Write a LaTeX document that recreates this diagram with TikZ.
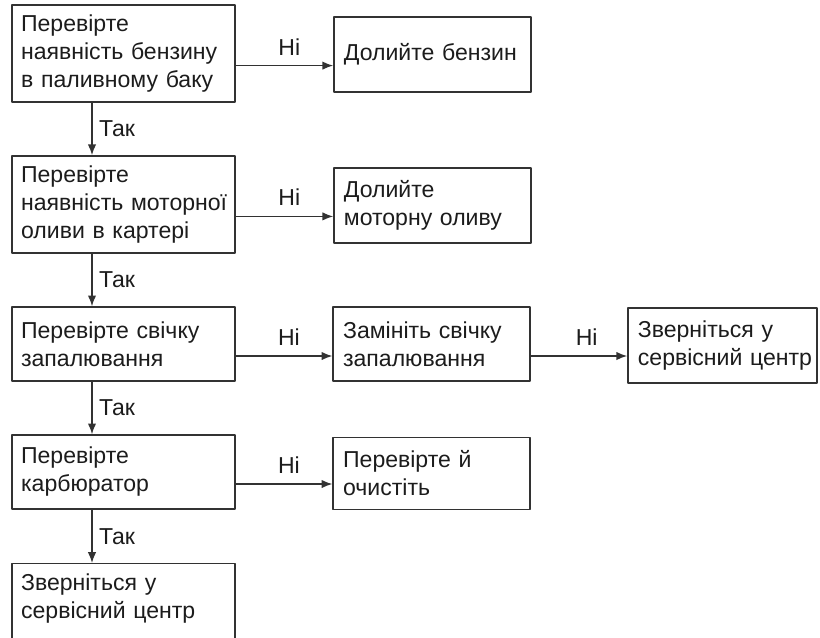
\documentclass[tikz,border=0pt]{standalone}
\usepackage{fontspec}
\setmainfont{Liberation Sans}
\usetikzlibrary{arrows.meta}
\definecolor{linegray}{RGB}{50,50,50}
\definecolor{textgray}{RGB}{28,28,28}
\tikzset{
  box/.style={draw=linegray,line width=1pt,align=left,text=textgray,
    font=\fontsize{16.4}{19.9}\selectfont,inner ysep=0pt},
  leftbox/.style={box,text width=5.125cm,inner xsep=0.225cm},
  rightbox/.style={box,text width=4.425cm,inner xsep=0.25cm},
  farbox/.style={box,text width=4.225cm,inner xsep=0.25cm},
  flow/.style={draw=linegray,line width=1pt,-{Latex[length=2.7mm,width=2.1mm]}},
  tag/.style={text=textgray,font=\fontsize{16.4}{18}\selectfont,inner sep=2pt}
}
\begin{document}
\begin{tikzpicture}[line cap=round,line join=round]
  \useasboundingbox (0,0) rectangle (20.5,-15.925);
  % checks, left column
  \node[leftbox,minimum height=2.425cm] (b1) at (3.09,-1.34) {Перевірте\\наявність~бензину\\в~паливному~баку};
  \node[leftbox,minimum height=2.425cm] (b2) at (3.09,-5.11) {Перевірте\\наявність~моторної\\оливи~в~картері};
  \node[leftbox,minimum height=1.85cm] (b3) at (3.09,-8.6) {Перевірте~свічку\\запалювання};
  \node[leftbox,minimum height=1.85cm] (b4) at (3.09,-11.8) {Перевірте\\карбюратор};
  \node[leftbox,anchor=north,inner ysep=0.25cm,text depth=2cm] (b5) at (3.09,-14.075) {Зверніться~у\\сервісний~центр};
  % actions
  \node[rightbox,minimum height=1.875cm] (r1) at (10.81,-1.36) {Долийте~бензин};
  \node[rightbox,minimum height=1.875cm] (r2) at (10.81,-5.14) {Долийте\\моторну~оливу};
  \node[rightbox,minimum height=1.85cm] (r3) at (10.79,-8.6) {Замініть~свічку\\запалювання};
  \node[rightbox,minimum height=1.8cm] (r4) at (10.79,-11.83) {Перевірте~й\\очистіть};
  \node[farbox,minimum height=1.875cm] (f3) at (18.06,-8.64) {Зверніться~у\\сервісний~центр};
  % Так
  \coordinate (y1) at ([xshift=-0.79cm]b1.south);
  \coordinate (y2) at ([xshift=-0.79cm]b2.south);
  \coordinate (y3) at ([xshift=-0.79cm]b3.south);
  \coordinate (y4) at ([xshift=-0.79cm]b4.south);
  \draw[flow] (y1) -- (y1 |- b2.north) node[tag,midway,right=2.5pt] {Так};
  \draw[flow] (y2) -- (y2 |- b3.north) node[tag,midway,right=2.5pt] {Так};
  \draw[flow] (y3) -- (y3 |- b4.north) node[tag,midway,right=2.5pt] {Так};
  \draw[flow] (y4) -- (y4 |- b5.north) node[tag,midway,right=2.5pt] {Так};
  % Ні
  \coordinate (n1) at ([yshift=-0.3cm]b1.east);
  \coordinate (n2) at ([yshift=-0.3cm]b2.east);
  \coordinate (n3) at ([yshift=-0.3cm]b3.east);
  \coordinate (n4) at ([yshift=-0.3cm]b4.east);
  \coordinate (n5) at ([yshift=-0.3cm]r3.east);
  \draw[flow] (n1) -- (n1 -| r1.west) node[tag,pos=0.55,above=5pt] {Ні};
  \draw[flow] (n2) -- (n2 -| r2.west) node[tag,pos=0.55,above=5pt] {Ні};
  \draw[flow] (n3) -- (n3 -| r3.west) node[tag,pos=0.55,above=5pt] {Ні};
  \draw[flow] (n4) -- (n4 -| r4.west) node[tag,pos=0.55,above=5pt] {Ні};
  \draw[flow] (n5) -- (n5 -| f3.west) node[tag,pos=0.58,above=5pt] {Ні};
\end{tikzpicture}
\end{document}
